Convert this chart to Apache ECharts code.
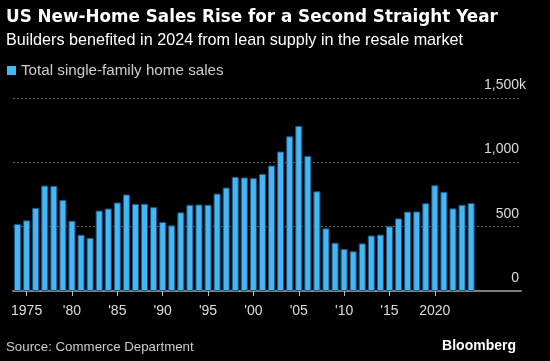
<!DOCTYPE html>
<html>
<head>
<meta charset="utf-8">
<script src="https://cdn.jsdelivr.net/npm/echarts@6/dist/echarts.min.js"></script>
<style>
html,body{margin:0;padding:0;background:#000;}
#c{width:550px;height:361px;}
</style>
</head>
<body>
<div id="c"></div>
<script>
// Data (thousands of units)
var years = [1974,1975,1976,1977,1978,1979,1980,1981,1982,1983,1984,1985,1986,1987,1988,1989,1990,1991,1992,1993,1994,1995,1996,1997,1998,1999,2000,2001,2002,2003,2004,2005,2006,2007,2008,2009,2010,2011,2012,2013,2014,2015,2016,2017,2018,2019,2020,2021,2022,2023,2024];
var sales = [520,549,646,819,817,707,546,437,413,625,641,688,750,676,678,652,536,510,611,670,672,670,757,804,886,882,877,910,975,1084,1202,1283,1049,775,487,375,327,309,370,431,438,503,564,617,618,682,822,771,642,670,683];
var yTicks = [0,500,1000,1500];
var seriesName = 'Total single-family home sales';
var padYears = [2025,2026,2027,2028,2029];

var cats = years.concat(padYears).map(String);
var vals = sales.slice();

function fmtYear(y){
  y = +y;
  if (y === 1975 || y === 2020) return String(y);
  return "'" + String(y).slice(2);
}
function showYear(idx, val){
  var y = +val;
  return y % 5 === 0 && y <= 2020;
}

var chart = echarts.init(document.getElementById('c'), null, {renderer:'canvas'});
var FONT = 'Liberation Sans';
chart.setOption({
  backgroundColor:'#000',
  animation:false,
  title:[
    {text:'US New-Home Sales Rise for a Second Straight Year', left:1, top:4,
     textStyle:{color:'#fff', fontSize:16.8, fontWeight:'bold', fontFamily:'DejaVu Sans'}},
    {text:'Builders benefited in 2024 from lean supply in the resale market', left:1, top:28,
     textStyle:{color:'#fff', fontSize:16.2, fontWeight:'normal', fontFamily:FONT}},
    {text:'Source: Commerce Department', left:1, top:336,
     textStyle:{color:'#ccc', fontSize:13.3, fontWeight:'normal', fontFamily:FONT}},
    {text:'Bloomberg', right:29, top:334,
     textStyle:{color:'#fff', fontSize:14, fontWeight:'bold', fontFamily:FONT}}
  ],
  legend:{
    left:7, top:63, padding:0, itemWidth:9, itemHeight:9,
    icon:'rect',
    itemStyle:{borderWidth:0},
    textStyle:{color:'#ccc', fontSize:15.2, fontFamily:FONT},
    data:[seriesName]
  },
  grid:{left:13, right:29, top:98, bottom:70, containLabel:false},
  xAxis:{
    type:'category',
    data:cats,
    boundaryGap:true,
    axisLine:{show:true, lineStyle:{color:'#808080', width:2}},
    axisTick:{show:true, alignWithLabel:true, interval:showYear, length:5, lineStyle:{color:'#bbb', width:1}},
    axisLabel:{interval:showYear, formatter:fmtYear, color:'#ddd', fontSize:14, fontFamily:FONT, margin:13},
    splitLine:{show:false}
  },
  yAxis:{
    type:'value',
    position:'right',
    min:0, max:1500, interval:500,
    axisLine:{show:false},
    axisTick:{show:false},
    splitLine:{show:true, lineStyle:{color:'#666', type:[2,2], width:1}},
    axisLabel:{
      inside:true, margin:-5, align:'right', verticalAlign:'bottom',
      color:'#ddd', fontSize:14, fontFamily:FONT, padding:[0,0,6,0],
      formatter:function(v){
        var s = v.toLocaleString('en-US');
        if (v === 1500) return s + '{k|k}';
        return s + '{s| }';
      },
      rich:{k:{color:'#ddd', fontSize:14, fontFamily:FONT, width:7}, s:{width:7, fontSize:14}}
    }
  },
  series:[{
    name:seriesName,
    type:'bar',
    data:vals,
    barWidth:7,
    itemStyle:{color:'#45b6f6', borderColor:'#1f5a80', borderWidth:1}
  }]
});
</script>
</body>
</html>
